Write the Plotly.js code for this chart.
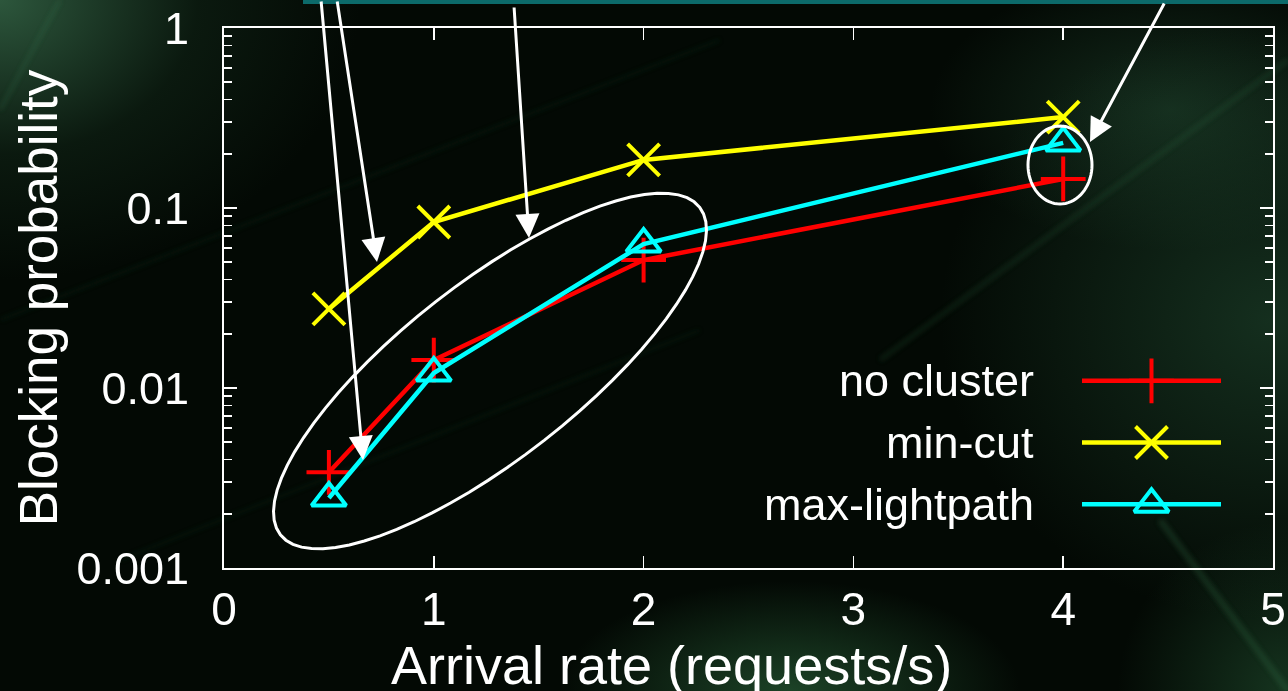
<!DOCTYPE html>
<html>
<head>
<meta charset="utf-8">
<script src="https://cdn.plot.ly/plotly-3.0.1.min.js"></script>
<style>
html,body{margin:0;padding:0;width:1288px;height:691px;overflow:hidden;}
body{
  background:
    radial-gradient(ellipse 360px 280px at 0px 0px, rgba(52,100,70,0.85), rgba(25,55,35,0.35) 55%, rgba(0,0,0,0) 100%),
    radial-gradient(ellipse 330px 300px at 1270px 320px, rgba(35,78,52,0.55), rgba(0,0,0,0) 100%),
    radial-gradient(ellipse 240px 140px at 1170px 110px, rgba(40,85,58,0.45), rgba(0,0,0,0) 100%),
    radial-gradient(ellipse 230px 110px at 790px 691px, rgba(45,105,62,0.6), rgba(0,0,0,0) 100%),
    radial-gradient(ellipse 170px 170px at 1288px 691px, rgba(40,95,58,0.5), rgba(0,0,0,0) 100%),
    #030904;
}
#bg{position:absolute;left:0;top:0;width:1288px;height:691px;}
#chart{position:absolute;left:0;top:0;width:1288px;height:691px;}
</style>
</head>
<body>
<svg id="bg" width="1288" height="691">
  <defs><filter id="blur"><feGaussianBlur stdDeviation="2.5"/></filter></defs>
  <g filter="url(#blur)" stroke="rgb(70,140,90)" fill="none">
    <line x1="0" y1="320" x2="720" y2="40" stroke-width="4" opacity="0.08"/>
    <line x1="880" y1="360" x2="1288" y2="60" stroke-width="5" opacity="0.14"/>
    <line x1="60" y1="0" x2="0" y2="110" stroke-width="3" opacity="0.22"/>
    <line x1="120" y1="560" x2="700" y2="330" stroke-width="4" opacity="0.07"/>
    <line x1="1160" y1="520" x2="1288" y2="691" stroke-width="6" opacity="0.22"/>
  </g>
</svg>
<div id="chart"></div>
<script>
// ---- data ----
const arrivalRate = [0.5, 1, 2, 4];
const noCluster = [0.0034, 0.0143, 0.0514, 0.145];
const minCut = [0.0275, 0.0836, 0.185, 0.32];
const maxLightpath = [0.00245, 0.0121, 0.0631, 0.23];
const seriesNames = ["no cluster", "min-cut", "max-lightpath"];
const seriesColors = ["#ff0000", "#ffff00", "#00ffff"];
const seriesSymbols = ["cross-thin-open", "x-thin-open", "triangle-up-open"];
const xTickVals = [0, 1, 2, 3, 4, 5];
const yTickVals = [0.001, 0.01, 0.1, 1];
const yTickText = ["0.001", "0.01", "0.1", "1"];
const xTitle = "Arrival rate (requests/s)";
const yTitle = "Blocking probability";

// ---- geometry helpers (plot area in page pixels) ----
const W = 1288, H = 691;
const L = 224, R = 1273, T = 28, B = 568;
const px2x = p => (p - L) / (R - L);
const py2y = p => (B - p) / (B - T);

function ellipsePath(cx, cy, a, b, deg) {
  const th = deg * Math.PI / 180;
  const pts = [];
  for (let i = 0; i <= 72; i++) {
    const t = i / 72 * 2 * Math.PI;
    const ex = a * Math.cos(t), ey = b * Math.sin(t);
    const x = cx + ex * Math.cos(th) - ey * Math.sin(th);
    const y = cy - (ex * Math.sin(th) + ey * Math.cos(th));
    pts.push((i ? 'L' : 'M') + px2x(x).toFixed(5) + ',' + py2y(y).toFixed(5));
  }
  return pts.join(' ') + ' Z';
}

const seriesData = [noCluster, minCut, maxLightpath];
const traces = [];
seriesData.forEach((ys, i) => {
  traces.push({
    type: 'scatter', mode: 'lines+markers', name: seriesNames[i],
    x: arrivalRate, y: ys, showlegend: false, cliponaxis: false,
    line: {color: seriesColors[i], width: 4.5},
    marker: {symbol: seriesSymbols[i], size: i === 2 ? 30 : 32, color: seriesColors[i],
             line: {color: seriesColors[i], width: 4}}
  });
});
// hand-built legend (text left, sample on right, like the original)
seriesNames.forEach((n, i) => {
  traces.push({
    type: 'scatter', mode: 'lines+markers', xaxis: 'x2', yaxis: 'y2',
    x: [0, 0.5, 1], y: [i, i, i], showlegend: false, hoverinfo: 'skip', cliponaxis: false,
    line: {color: seriesColors[i], width: 4.5},
    marker: {symbol: seriesSymbols[i], size: i === 2 ? 30 : 32, color: seriesColors[i],
             opacity: [0, 1, 0], line: {color: seriesColors[i], width: 4}}
  });
});

const font = '"Liberation Sans", Arial, sans-serif';
const white = '#ffffff';

const annotations = seriesNames.map((n, i) => ({
  xref: 'paper', yref: 'y2', x: px2x(1036), y: i, text: n, showarrow: false,
  xanchor: 'right', yanchor: 'middle', font: {family: font, size: 45, color: white}
}));

// x-axis title, placed left of centre as in the original
annotations.push({
  xref: 'paper', yref: 'paper', x: px2x(671), y: py2y(665), text: xTitle, showarrow: false,
  xanchor: 'center', yanchor: 'middle', font: {family: font, size: 54, color: white}
});

// arrows: [tipX, tipY, tailX, tailY] in page pixels
const arrows = [[363, 460, 321, -2], [377, 262, 337, -2], [529, 238, 514, 6], [1090, 142, 1165, 2]];
arrows.forEach(a => annotations.push({
  xref: 'paper', yref: 'paper', x: px2x(a[0]), y: py2y(a[1]),
  ax: a[2] - a[0], ay: a[3] - a[1], axref: 'pixel', ayref: 'pixel',
  text: '', showarrow: true, arrowhead: 2, arrowsize: 1.6, arrowwidth: 3, arrowcolor: white, standoff: 0
}));

const shapes = [
  {type: 'rect', xref: 'paper', yref: 'paper', x0: px2x(303), x1: px2x(1290), y0: py2y(4), y1: py2y(-2),
   fillcolor: '#0c6a6a', line: {width: 0}, layer: 'above'},
  {type: 'path', xref: 'paper', yref: 'paper', path: ellipsePath(490, 371, 266, 88, 38),
   line: {color: white, width: 3}},
  {type: 'path', xref: 'paper', yref: 'paper', path: ellipsePath(1060, 165, 32, 39, 0),
   line: {color: white, width: 3}}
];

const layout = {
  width: W, height: H,
  margin: {l: L, r: W - R, t: T, b: H - B, pad: 0},
  paper_bgcolor: 'rgba(0,0,0,0)', plot_bgcolor: 'rgba(0,0,0,0)',
  font: {family: font, color: white},
  showlegend: false,
  xaxis: {
    range: [0, 5], tickvals: xTickVals, ticks: 'inside', ticklen: 12, tickwidth: 1.5, tickcolor: white,
    showline: true, linecolor: white, linewidth: 2, mirror: 'ticks', showgrid: false, zeroline: false,
    tickfont: {family: font, size: 46, color: white}, ticklabelstandoff: 0,
    automargin: false
  },
  yaxis: {
    type: 'log', range: [-3, 0], tickvals: yTickVals, ticktext: yTickText,
    ticks: 'inside', ticklen: 13, tickwidth: 1.5, tickcolor: white,
    minor: {dtick: 'D1', ticks: 'inside', ticklen: 8, tickwidth: 1.5, tickcolor: white, showgrid: false},
    showline: true, linecolor: white, linewidth: 2, mirror: 'ticks', showgrid: false, zeroline: false,
    tickfont: {family: font, size: 45, color: white}, ticklabelstandoff: 24,
    title: {text: yTitle, font: {family: font, size: 53, color: white}, standoff: 2},
    automargin: false
  },
  xaxis2: {domain: [px2x(1082), px2x(1221)], range: [0, 1], visible: false, anchor: 'y2', fixedrange: true},
  yaxis2: {domain: [py2y(535), py2y(350)], range: [2.5, -0.5], visible: false, anchor: 'x2', fixedrange: true},
  annotations: annotations,
  shapes: shapes
};

Plotly.newPlot('chart', traces, layout, {displayModeBar: false, staticPlot: true});
</script>
</body>
</html>
